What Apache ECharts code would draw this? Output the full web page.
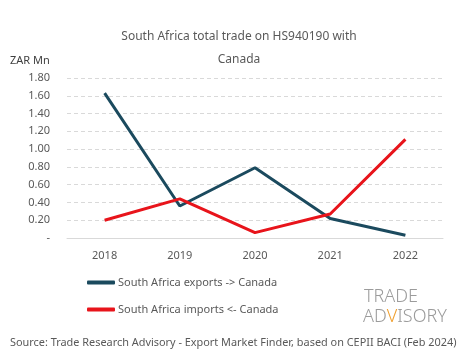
<!DOCTYPE html>
<html><head><meta charset="utf-8">
<script src="https://cdn.jsdelivr.net/npm/echarts@6/dist/echarts.min.js"></script>
<style>html,body{margin:0;padding:0;background:#fff}#c{width:465px;height:359px}</style>
</head><body><div id="c"></div>
<script>
const categories = ['2018','2019','2020','2021','2022'];
const exportsToCanada = [1.63, 0.36, 0.79, 0.22, 0.03];
const importsFromCanada = [0.20, 0.44, 0.06, 0.27, 1.11];
const seriesNames = ['South Africa exports -> Canada', 'South Africa imports <- Canada'];
const FONT = 'Noto Sans';
const chart = echarts.init(document.getElementById('c'));
chart.setOption({
  animation: false,
  textStyle: {fontFamily: FONT},
  title: {
    text: 'South Africa total trade on HS940190 with\nCanada',
    left: 234, top: 20, textAlign: 'center',
    textStyle: {fontFamily: FONT, fontSize: 12, fontWeight: 'normal', color: '#595959', lineHeight: 23}
  },
  grid: {left: 67, right: 22, top: 78, bottom: 121},
  xAxis: {
    type: 'category', data: categories, boundaryGap: true,
    axisLine: {lineStyle: {color: '#d9d9d9', width: 1}},
    axisTick: {show: false},
    axisLabel: {color: '#595959', fontSize: 11, margin: 12, fontFamily: FONT}
  },
  yAxis: {
    type: 'value', min: 0, max: 1.8, interval: 0.2,
    name: 'ZAR Mn', nameLocation: 'end', nameGap: 12,
    nameTextStyle: {color: '#404040', fontSize: 11, align: 'left', padding: [0,0,0,-57], fontFamily: FONT},
    axisLine: {show: false}, axisTick: {show: false},
    splitLine: {lineStyle: {color: '#d9d9d9', type: [4, 3], width: 1}},
    axisLabel: {color: '#595959', fontSize: 11, margin: 17, fontFamily: FONT,
      formatter: v => v === 0 ? '-' : v.toFixed(2)}
  },
  legend: {
    orient: 'vertical', left: 82, top: 272, itemGap: 16,
    itemWidth: 28, itemHeight: 4, icon: 'roundRect',
    textStyle: {color: '#595959', fontSize: 11, fontFamily: FONT, padding: [0,0,0,-2]},
    data: seriesNames
  },
  series: [
    {name: seriesNames[0], type: 'line', data: exportsToCanada, symbol: 'none',
     lineStyle: {color: '#1b4a5e', width: 3}, itemStyle: {color: '#1b4a5e'}},
    {name: seriesNames[1], type: 'line', data: importsFromCanada, symbol: 'none',
     lineStyle: {color: '#e8141b', width: 3}, itemStyle: {color: '#e8141b'}}
  ],
  graphic: [
    {type: 'text', left: 364, top: 288, style: {text: 'TRADE', fontFamily: FONT, fontSize: 18, fontWeight: 300, fill: '#9b9b9b'}},
    {type: 'text', left: 363, top: 308, style: {
      text: '{a|AD}{b|V}{a|ISORY}',
      rich: {a: {fontFamily: FONT, fontSize: 18, fontWeight: 300, fill: '#9b9b9b', color: '#9b9b9b'},
             b: {fontFamily: FONT, fontSize: 18, fontWeight: 300, fill: '#f0a030', color: '#f0a030'}}
    }},
    {type: 'text', left: 10, top: 337, style: {
      text: 'Source: Trade Research Advisory - Export Market Finder, based on CEPII BACI (Feb 2024)',
      fontFamily: FONT, fontSize: 10.9, fill: '#595959'}}
  ]
});
</script></body></html>
